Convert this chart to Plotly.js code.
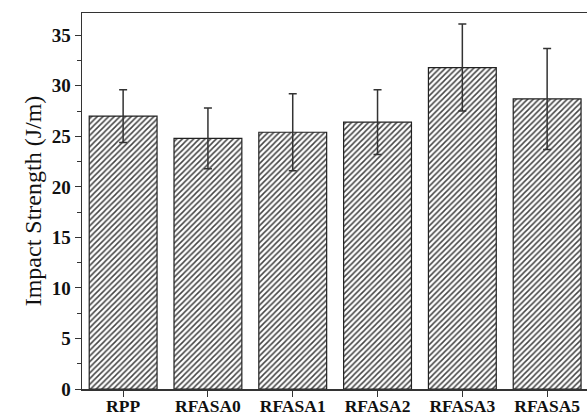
<!DOCTYPE html>
<html>
<head>
<meta charset="utf-8">
<script src="https://cdn.plot.ly/plotly-3.0.1.min.js"></script>
<style>
  html, body { margin: 0; padding: 0; background: #fff; }
  #chart { width: 587px; height: 418px; }
</style>
</head>
<body>
<div id="chart"></div>
<script>
// Impact strength of each sample, with standard deviation
const samples = ['RPP', 'RFASA0', 'RFASA1', 'RFASA2', 'RFASA3', 'RFASA5'];
const impactStrength = [27.0, 24.8, 25.4, 26.4, 31.8, 28.7];
const stdDev = [2.6, 3.0, 3.8, 3.2, 4.3, 5.0];
const yTicks = [0, 5, 10, 15, 20, 25, 30, 35];

const serif = '"Liberation Serif", "Times New Roman", serif';

const trace = {
  type: 'bar',
  x: samples,
  y: impactStrength,
  width: 0.8,
  marker: {
    color: '#ffffff',
    line: { color: '#222', width: 1.2 },
    pattern: { shape: '/', size: 4, solidity: 0.38, fgcolor: '#444', bgcolor: '#ffffff' }
  },
  error_y: {
    type: 'data',
    array: stdDev,
    visible: true,
    color: '#333',
    thickness: 1.5,
    width: 4
  },
  hoverinfo: 'x+y'
};

const layout = {
  width: 587,
  height: 418,
  margin: { l: 82, r: 0, t: 13, b: 29 },
  paper_bgcolor: '#fff',
  plot_bgcolor: '#fff',
  showlegend: false,
  xaxis: {
    type: 'category',
    range: [-0.485, 5.47],
    showline: true,
    mirror: true,
    linecolor: '#333',
    linewidth: 1.5,
    ticks: 'outside',
    ticklen: 6,
    tickwidth: 1,
    tickcolor: '#333',
    ticklabelstandoff: -6,
    showgrid: false,
    zeroline: false,
    tickfont: { family: serif, size: 17.5, color: '#111', weight: 'bold' }
  },
  yaxis: {
    range: [0, 37.2],
    tickvals: yTicks,
    ticktext: yTicks.map(String),
    showline: true,
    linecolor: '#333',
    linewidth: 1.5,
    ticks: 'outside',
    ticklen: 6,
    tickwidth: 1,
    tickcolor: '#333',
    minor: { dtick: 2.5, ticks: 'outside', ticklen: 4, tickcolor: '#333', showgrid: false },
    showgrid: false,
    zeroline: false,
    tickfont: { family: serif, size: 19, color: '#111', weight: 'bold' },
    title: {
      text: 'Impact Strength (J/m)',
      font: { family: serif, size: 24, color: '#111' },
      standoff: 3
    }
  }
};

Plotly.newPlot('chart', [trace], layout, { displayModeBar: false, staticPlot: true });
</script>
</body>
</html>
